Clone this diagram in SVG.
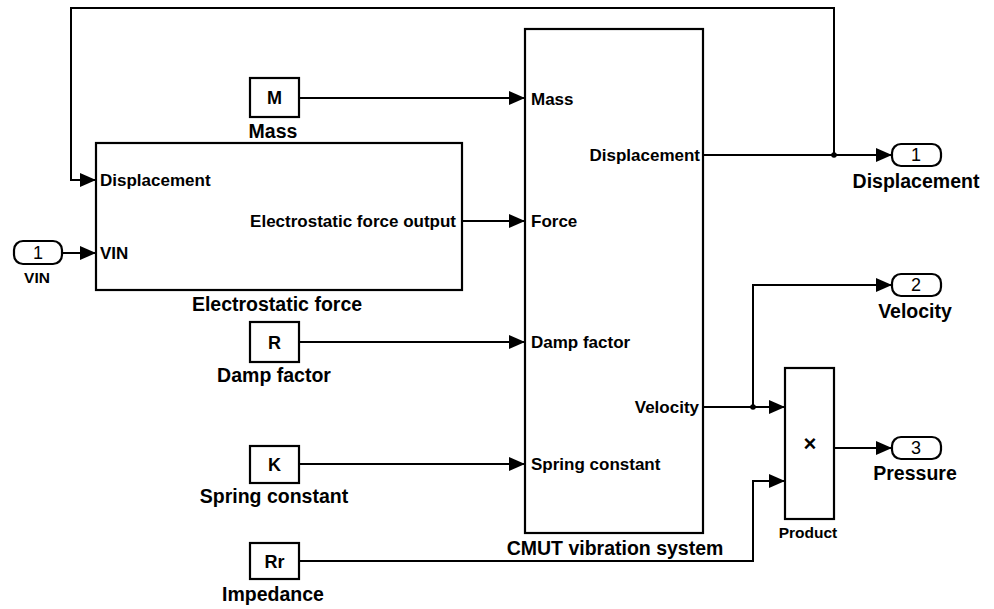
<svg xmlns="http://www.w3.org/2000/svg" width="994" height="609" viewBox="0 0 994 609">
<style>
.blk{fill:#fff;stroke:#000;stroke-width:2.2}
.ln{fill:none;stroke:#000;stroke-width:2}
.pt{font-family:"Liberation Sans",Arial,sans-serif;font-weight:bold;font-size:17px;fill:#000}
.lb{font-family:"Liberation Sans",Arial,sans-serif;font-weight:bold;font-size:19.5px;fill:#000;text-anchor:middle}
.sm{font-family:"Liberation Sans",Arial,sans-serif;font-weight:bold;font-size:15.5px;fill:#000;text-anchor:middle}
.in{font-family:"Liberation Sans",Arial,sans-serif;font-weight:bold;font-size:18px;fill:#000;text-anchor:middle}
.num{font-family:"Liberation Sans",Arial,sans-serif;font-size:18px;fill:#000;text-anchor:middle}
</style>
<defs>
<marker id="ah" markerUnits="userSpaceOnUse" markerWidth="16" markerHeight="14" refX="16" refY="7" orient="auto">
<path d="M0,0 L16,7 L0,14 z" fill="#000"/>
</marker>
</defs>
<g id="connectors">
<path class="ln" d="M834,155 V8 H71 V180 H96" marker-end="url(#ah)"/>
<path class="ln" d="M62,253 H96" marker-end="url(#ah)"/>
<path class="ln" d="M299,98 H525" marker-end="url(#ah)"/>
<path class="ln" d="M462,221 H525" marker-end="url(#ah)"/>
<path class="ln" d="M299,342 H525" marker-end="url(#ah)"/>
<path class="ln" d="M299,464 H525" marker-end="url(#ah)"/>
<path class="ln" d="M299,561 H753 V481 H785" marker-end="url(#ah)"/>
<path class="ln" d="M703,155 H892" marker-end="url(#ah)"/>
<path class="ln" d="M703,407 H785" marker-end="url(#ah)"/>
<path class="ln" d="M753,407 V285 H892" marker-end="url(#ah)"/>
<path class="ln" d="M834,448 H892" marker-end="url(#ah)"/>
<circle cx="834" cy="155" r="2.8" fill="#000"/>
<circle cx="753" cy="407" r="2.8" fill="#000"/>
</g>
<g id="vin">
<rect class="blk" x="14" y="241" width="48" height="23" rx="9"/>
<text class="num" x="38" y="259">1</text>
<text class="sm" x="37" y="283">VIN</text>
</g>
<g id="mass">
<rect class="blk" x="250" y="78" width="49" height="39"/>
<text class="in" x="274.5" y="104">M</text>
<text class="lb" x="273" y="138">Mass</text>
</g>
<g id="electrostatic">
<rect class="blk" x="96" y="143" width="366" height="147"/>
<text class="pt" x="100" y="186">Displacement</text>
<text class="pt" x="100" y="259">VIN</text>
<text class="pt" x="456" y="227" text-anchor="end">Electrostatic force output</text>
<text class="lb" x="277" y="311">Electrostatic force</text>
</g>
<g id="damp">
<rect class="blk" x="250" y="322" width="49" height="40"/>
<text class="in" x="274.5" y="348.5">R</text>
<text class="lb" x="274" y="382">Damp factor</text>
</g>
<g id="spring">
<rect class="blk" x="250" y="446" width="49" height="37"/>
<text class="in" x="274.5" y="470.5">K</text>
<text class="lb" x="274" y="503">Spring constant</text>
</g>
<g id="impedance">
<rect class="blk" x="250" y="543" width="49" height="36"/>
<text class="in" x="274.5" y="567.5">Rr</text>
<text class="lb" x="273" y="601">Impedance</text>
</g>
<g id="cmut">
<rect class="blk" x="525" y="29" width="178" height="504"/>
<text class="pt" x="531" y="105">Mass</text>
<text class="pt" x="531" y="227">Force</text>
<text class="pt" x="531" y="348">Damp factor</text>
<text class="pt" x="531" y="470">Spring constant</text>
<text class="pt" x="700" y="161" text-anchor="end">Displacement</text>
<text class="pt" x="699" y="413" text-anchor="end">Velocity</text>
<text class="lb" x="615" y="555">CMUT vibration system</text>
</g>
<g id="product">
<rect class="blk" x="785" y="368" width="49" height="151"/>
<text class="in" x="810" y="451" style="font-size:22px">×</text>
<text class="sm" x="808" y="538">Product</text>
</g>
<g id="out1">
<rect class="blk" x="892" y="144" width="49" height="22" rx="9"/>
<text class="num" x="916" y="161">1</text>
<text class="lb" x="916" y="188">Displacement</text>
</g>
<g id="out2">
<rect class="blk" x="892" y="274" width="49" height="22" rx="9"/>
<text class="num" x="916" y="291">2</text>
<text class="lb" x="915" y="318">Velocity</text>
</g>
<g id="out3">
<rect class="blk" x="892" y="437" width="49" height="22" rx="9"/>
<text class="num" x="916" y="454">3</text>
<text class="lb" x="915" y="480">Pressure</text>
</g>
</svg>
